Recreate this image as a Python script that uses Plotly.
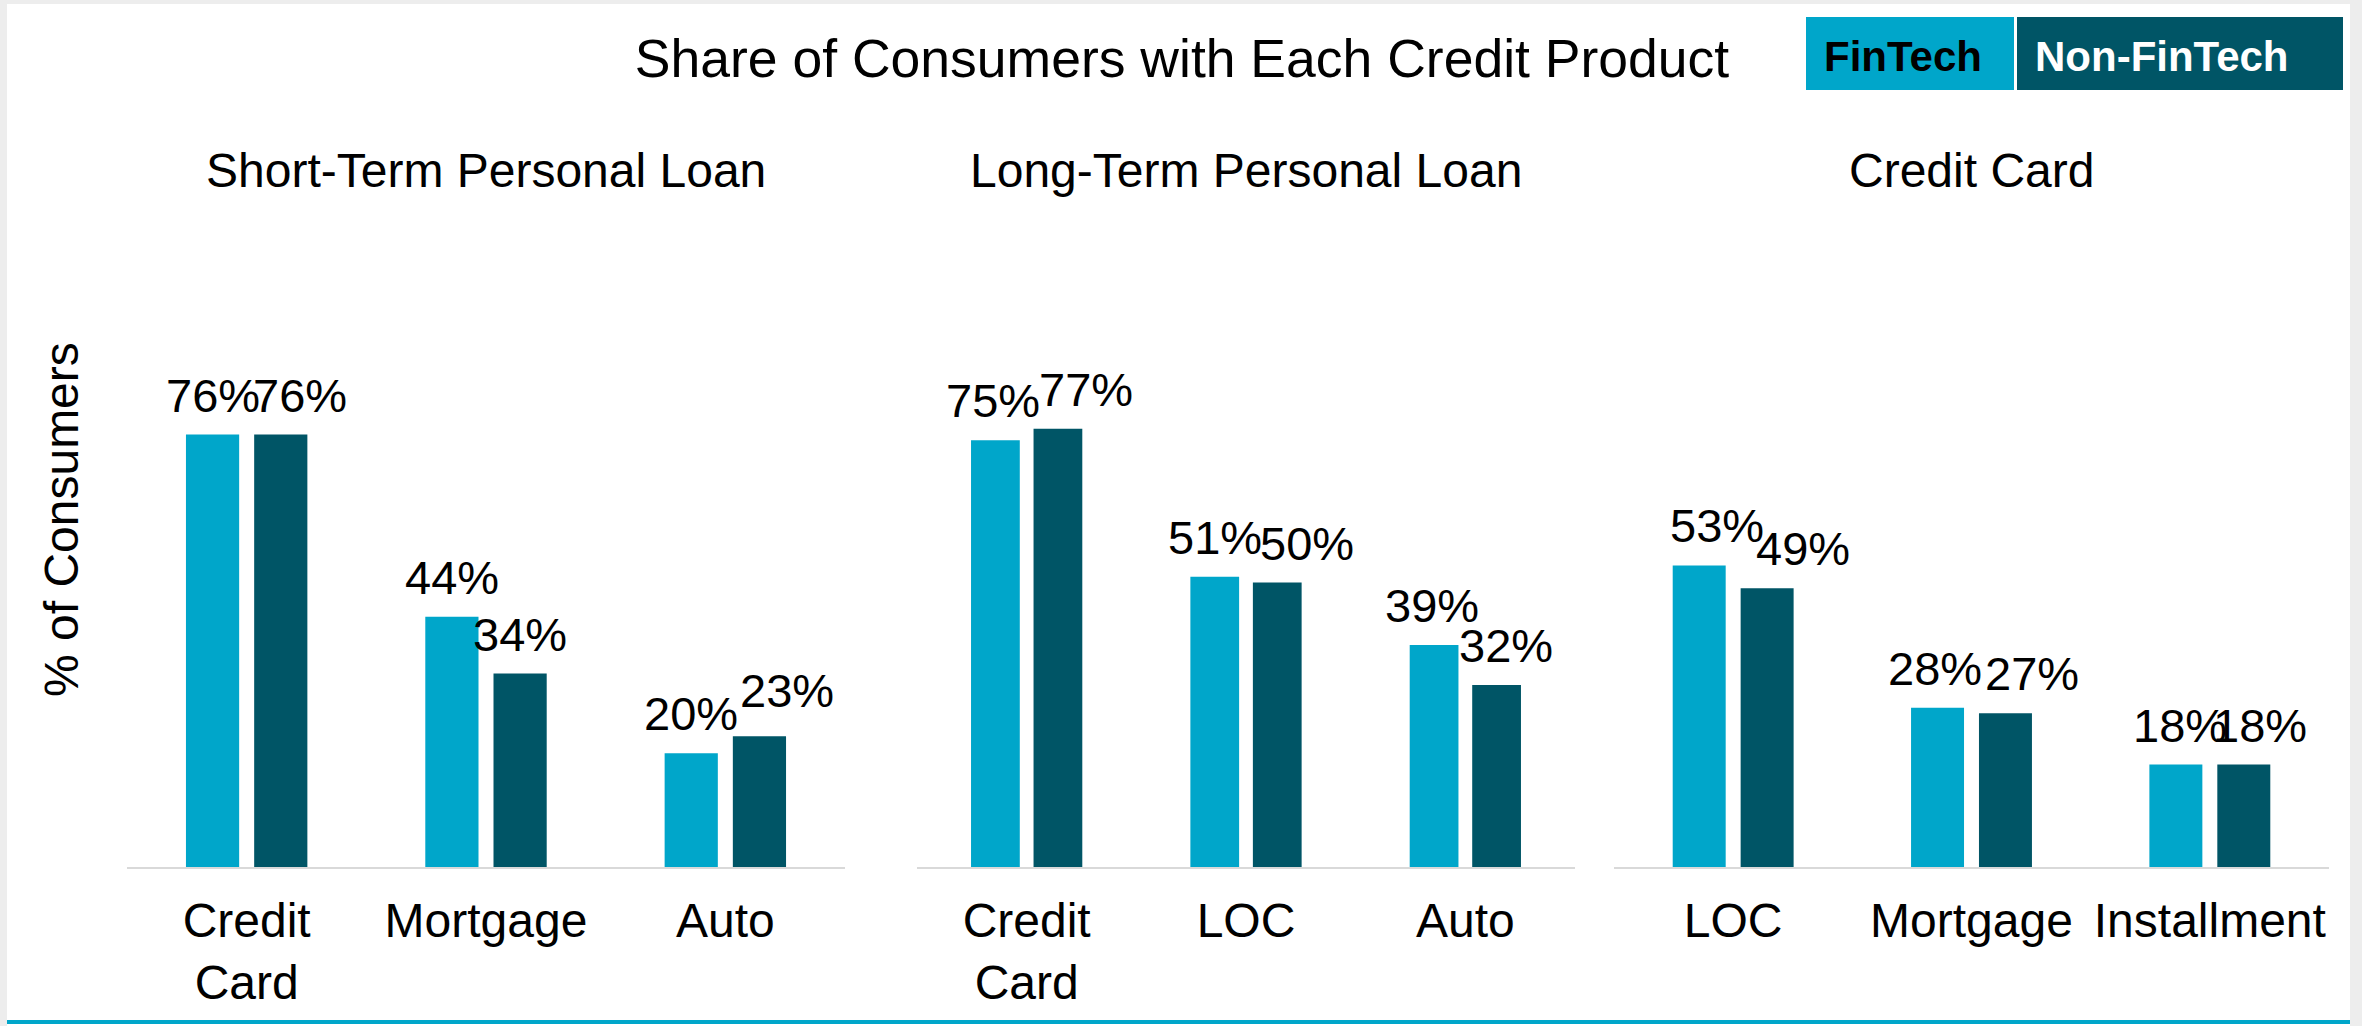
import plotly.graph_objects as go

# ---- data -------------------------------------------------------------
panel_titles = ["Short-Term Personal Loan", "Long-Term Personal Loan", "Credit Card"]

short_term_categories = ["Credit<br>Card", "Mortgage", "Auto"]
short_term_fintech = [0.76, 0.44, 0.20]
short_term_nonfintech = [0.76, 0.34, 0.23]

long_term_categories = ["Credit<br>Card", "LOC", "Auto"]
long_term_fintech = [0.75, 0.51, 0.39]
long_term_nonfintech = [0.77, 0.50, 0.32]

credit_card_categories = ["LOC", "Mortgage", "Installment"]
credit_card_fintech = [0.53, 0.28, 0.18]
credit_card_nonfintech = [0.49, 0.27, 0.18]

series_names = ["FinTech", "Non-FinTech"]

panels = [
    (short_term_categories, short_term_fintech, short_term_nonfintech),
    (long_term_categories, long_term_fintech, long_term_nonfintech),
    (credit_card_categories, credit_card_fintech, credit_card_nonfintech),
]

# ---- styling ----------------------------------------------------------
W, H = 2362, 1026
FONT = "Liberation Sans, Arial, Helvetica, sans-serif"
CYAN = "#00a6ca"
TEAL = "#005566"
AXIS_GREY = "#d9d9d9"
BARGAP, GROUPGAP = 0.43, 0.22

# hand-placed value labels: (dx, dy) pixel nudges per panel, per series
fintech_label_nudge = [[(0, 0), (0, 0), (0, 0)],
                       [(-2, 0), (0, 0), (-2, 0)],
                       [(18, 0), (-3, 0), (4, 0)]]
nonfintech_label_nudge = [[(19, 0), (0, 0), (28, 6)],
                          [(28, 0), (30, 0), (9, 0)],
                          [(36, 0), (27, 0), (16, 0)]]


def px_x(p):
    return p / W


def px_y(p):
    return 1 - p / H


# panel extents in pixels (left, right); shared vertical extent
panel_px = [(127, 845), (917, 1575), (1614, 2329)]
base_px, top_px = 867, 173
y_top = (base_px - top_px) / 569.0

fig = go.Figure()

# card background with soft frame
fig.add_shape(type="rect", xref="paper", yref="paper",
              x0=px_x(7), x1=px_x(2350), y0=0, y1=px_y(4),
              fillcolor="white", line=dict(width=0), layer="below")

for i, (cats, fin, non) in enumerate(panels):
    n = "" if i == 0 else str(i + 1)
    l, r = panel_px[i]
    band = (r - l) / len(cats)
    half_slot = (1 - BARGAP) * band / 4
    for s, (name, vals, col, nudges) in enumerate(zip(
            series_names, (fin, non), (CYAN, TEAL),
            (fintech_label_nudge[i], nonfintech_label_nudge[i]))):
        fig.add_trace(go.Bar(
            x=cats, y=vals, name=name,
            marker=dict(color=col, line=dict(width=0)),
            showlegend=False,
            xaxis="x" + n, yaxis="y" + n,
            hoverinfo="skip",
        ))
        side = -1 if s == 0 else 1
        for c, v, (dx, dy) in zip(cats, vals, nudges):
            fig.add_annotation(
                text=f"{v:.0%}", x=c, y=v, xref="x" + n, yref="y" + n,
                xanchor="center", yanchor="bottom", showarrow=False,
                xshift=side * half_slot + dx, yshift=11 + dy,
                font=dict(family=FONT, size=47, color="black"),
            )
    fig.layout["xaxis" + n] = dict(
        domain=[px_x(l), px_x(r)], anchor="y" + n,
        showline=True, linecolor=AXIS_GREY, linewidth=2,
        ticks="", showgrid=False, zeroline=False, ticklabelstandoff=10,
        tickfont=dict(family=FONT, size=48, color="black"),
        fixedrange=True,
    )
    fig.layout["yaxis" + n] = dict(
        domain=[px_y(base_px), px_y(top_px)], anchor="x" + n,
        range=[0, y_top], showticklabels=False, showgrid=False,
        zeroline=False, showline=False, ticks="", fixedrange=True,
    )
    fig.add_annotation(
        text=panel_titles[i], xref="x" + n + " domain", yref="paper",
        x=0.5, y=px_y(170), xanchor="center", yanchor="middle",
        showarrow=False, font=dict(family=FONT, size=48, color="black"),
    )

# y-axis title shared by the three panels
fig.add_annotation(
    text="% of Consumers", textangle=-90, xref="paper", yref="paper",
    x=px_x(61), y=px_y(520), xanchor="center", yanchor="middle",
    showarrow=False, font=dict(family=FONT, size=48, color="black"),
)

# colour key boxes
key = [("FinTech", CYAN, "black", 1806, 2014, 1903),
       ("Non-FinTech", TEAL, "white", 2017, 2343, 2162)]
for label, fill, fcol, x0, x1, xc in key:
    fig.add_shape(type="rect", xref="paper", yref="paper",
                  x0=px_x(x0), x1=px_x(x1), y0=px_y(90), y1=px_y(17),
                  fillcolor=fill, line=dict(width=0), layer="above")
    fig.add_annotation(
        text=f"<b>{label}</b>", xref="paper", yref="paper",
        x=px_x(xc), y=px_y(56), xanchor="center", yanchor="middle",
        showarrow=False, font=dict(family=FONT, size=42, color=fcol),
    )

# accent rule along the bottom edge
fig.add_shape(type="line", xref="paper", yref="paper",
              x0=px_x(7), x1=px_x(2350), y0=px_y(1022), y1=px_y(1022),
              line=dict(color=CYAN, width=4))

fig.update_layout(
    width=W, height=H, autosize=False,
    margin=dict(l=0, r=0, t=0, b=0),
    paper_bgcolor="#ededed", plot_bgcolor="rgba(0,0,0,0)",
    barmode="group", bargap=BARGAP, bargroupgap=GROUPGAP,
    font=dict(family=FONT, color="black"),
    title=dict(
        text="Share of Consumers with Each Credit Product",
        x=px_x(1182), y=px_y(58), xref="paper", yref="paper",
        xanchor="center", yanchor="middle",
        font=dict(family=FONT, size=53.5, color="black"),
    ),
)

fig.write_html("out.html")
